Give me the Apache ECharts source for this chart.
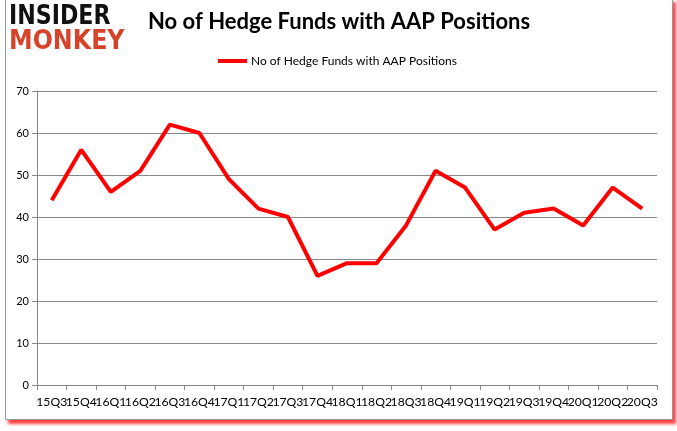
<!DOCTYPE html>
<html>
<head>
<meta charset="utf-8">
<script src="https://cdn.jsdelivr.net/npm/echarts@6/dist/echarts.min.js"></script>
<style>
html,body{margin:0;padding:0;background:#fff;width:677px;height:431px;overflow:hidden;}
#frame{position:absolute;left:5px;top:-2px;width:666px;height:420px;border:1px solid #9a9a9a;box-shadow:3px 4px 3px rgba(255,0,0,0.75);background:#fff;}
#chart{position:absolute;left:0;top:0;width:677px;height:431px;}
</style>
</head>
<body>
<div id="frame"></div>
<div id="chart"></div>
<script>
const categories = ["15Q3","15Q4","16Q1","16Q2","16Q3","16Q4","17Q1","17Q2","17Q3","17Q4","18Q1","18Q2","18Q3","18Q4","19Q1","19Q2","19Q3","19Q4","20Q1","20Q2","20Q3"];
const hedgeFunds = [44,56,46,51,62,60,49,42,40,26,29,29,38,51,47,37,41,42,38,47,42];
const seriesName = "No of Hedge Funds with AAP Positions";
const titleText = "No of Hedge Funds with AAP Positions";
const logoTop = "INSIDER";
const logoBottom = "MONKEY";

const chart = echarts.init(document.getElementById('chart'), null, {renderer:'canvas'});
const font = 'Lato, "Open Sans", sans-serif';
chart.setOption({
  backgroundColor: 'transparent',
  animation: false,
  title: {
    text: titleText,
    left: 148, top: 11, padding: 0,
    textStyle: {fontFamily: font, fontWeight: 'bold', fontSize: 22, color: '#000'}
  },
  legend: {
    data: [seriesName],
    left: 218, top: 55, padding: 0,
    itemWidth: 29, itemHeight: 4, itemGap: 4,
    icon: 'rect',
    textStyle: {fontFamily: font, fontSize: 12, color: '#000', padding:[0,0,0,-1]}
  },
  graphic: [
    {type:'text', left: 9, top: 3, scaleX: 0.82, style:{text: logoTop, fontFamily:'"DejaVu Sans", sans-serif', fontWeight:'900', fontSize: 27, fill:'#111'}},
    {type:'text', left: 9, top: 28, scaleX: 0.88, style:{text: logoBottom, fontFamily:'"DejaVu Sans", sans-serif', fontWeight:'900', fontSize: 27, fill:'#d5432b'}}
  ],
  grid: {left: 37, right: 20, top: 91, bottom: 46, containLabel: false},
  xAxis: {
    type: 'category',
    data: categories,
    boundaryGap: true,
    axisLine: {lineStyle: {color: '#888', width: 1}},
    axisTick: {show: true, length: 5, lineStyle:{color:'#888'}},
    axisLabel: {interval: 0, fontFamily: font, fontSize: 12.2, color: '#000', margin: 11}
  },
  yAxis: {
    type: 'value',
    min: 0, max: 70, interval: 10,
    axisLine: {show: true, lineStyle: {color: '#888'}},
    axisTick: {show: true, length: 5, lineStyle:{color:'#888'}},
    splitLine: {lineStyle: {color: '#888', width: 1}},
    axisLabel: {fontFamily: font, fontSize: 11, color: '#000', margin: 8}
  },
  series: [{
    name: seriesName,
    type: 'line',
    data: hedgeFunds,
    symbol: 'none',
    lineStyle: {color: '#ff0000', width: 4},
    itemStyle: {color: '#ff0000'}
  }]
});
</script>
</body>
</html>
